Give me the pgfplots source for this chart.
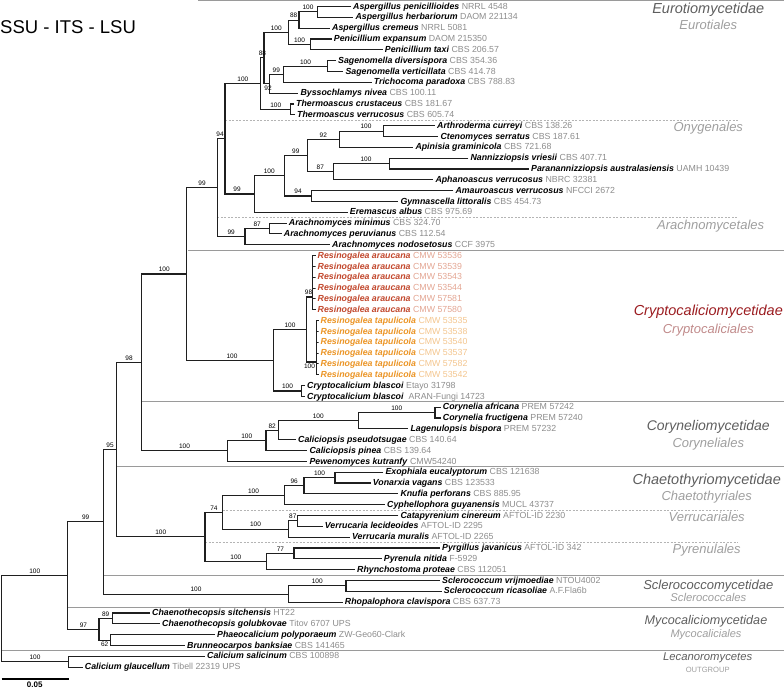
\documentclass[border=0pt]{standalone}
\usepackage{fontspec}
\setmainfont{Liberation Sans}
\usepackage{pgfplots}
\pgfplotsset{compat=1.18}
\definecolor{strain}{HTML}{8C8C8C}
\definecolor{sub}{HTML}{5E5E5E}
\definecolor{ord}{HTML}{9E9E9E}
\definecolor{crypt}{HTML}{9B1C20}
\definecolor{cryptord}{HTML}{C08A8A}
\definecolor{arau}{HTML}{C1462B}
\definecolor{araus}{HTML}{E3A592}
\definecolor{tapu}{HTML}{EB9424}
\definecolor{tapus}{HTML}{F3C58E}
\definecolor{sep}{HTML}{9A9A9A}
\definecolor{dsep}{HTML}{B4B4B4}
\newcommand{\lfont}{\fontsize{8.8}{10}\selectfont}
\newcommand{\bfont}{\fontsize{6.5}{7}\selectfont}
\newcommand{\leaf}[4]{\node[anchor=mid west,inner sep=0pt,xshift=2pt,font=\lfont] at (axis cs:#1,#2) {\textbf{\textit{#3}} \textcolor{strain}{#4}};}
\newcommand{\leafc}[6]{\node[anchor=mid west,inner sep=0pt,xshift=2pt,font=\lfont] at (axis cs:#1,#2) {\textcolor{#5}{\textbf{\textit{#3}}} \textcolor{#6}{#4}};}
\newcommand{\bs}[3]{\node[anchor=south,inner sep=0pt,yshift=1.8pt,font=\bfont] at (axis cs:#1,#2) {#3};}
\newcommand{\bsb}[3]{\node[anchor=north,inner sep=0pt,yshift=-1.8pt,font=\bfont] at (axis cs:#1,#2) {#3};}
\begin{document}
\begin{tikzpicture}
\begin{axis}[
  scale only axis, width=784pt, height=688pt,
  xmin=0, xmax=784, ymin=0, ymax=688, y dir=reverse,
  hide axis, clip=false,
  tree/.style={black!88, line width=1.1pt, no markers, line join=miter},
  solidsep/.style={sep, line width=0.9pt, no markers},
  dashsep/.style={dsep, line width=0.8pt, no markers, dash pattern=on 2pt off 1.5pt},
]
% separators
\addplot[solidsep] coordinates {(198,0.8) (784,0.8)};
\addplot[solidsep] coordinates {(188,250.2) (784,250.2)};
\addplot[solidsep] coordinates {(142,401.8) (784,401.8)};
\addplot[solidsep] coordinates {(116.3,466.8) (784,466.8)};
\addplot[solidsep] coordinates {(103.7,575.1) (784,575.1)};
\addplot[solidsep] coordinates {(68.3,607.6) (784,607.6)};
\addplot[solidsep] coordinates {(1.7,650.9) (784,650.9)};
\addplot[dashsep] coordinates {(225,120.2) (738,120.2)};
\addplot[dashsep] coordinates {(217.3,217.7) (738,217.7)};
\addplot[dashsep] coordinates {(222.7,510.1) (738,510.1)};
\addplot[dashsep] coordinates {(205,542.6) (738,542.6)};
% tree
\addplot[tree] coordinates {(351,6.5) (317.3,6.5) (317.3,17.3) (353.3,17.3)};
\addplot[tree] coordinates {(317.3,11.9) (299,11.9) (299,28.2) (330,28.2)};
\addplot[tree] coordinates {(331.7,39.0) (310.7,39.0) (310.7,49.8) (382.7,49.8)};
\addplot[tree] coordinates {(299,20.05) (288.3,20.05) (288.3,44.4) (310.7,44.4)};
\addplot[tree] coordinates {(336,60.7) (327.7,60.7) (327.7,71.5) (343.3,71.5)};
\addplot[tree] coordinates {(327.7,66.1) (283.3,66.1) (283.3,82.3) (371.7,82.3)};
\addplot[tree] coordinates {(283.3,74.2) (269.3,74.2) (269.3,93.1) (298.3,93.1)};
\addplot[tree] coordinates {(288.3,32.2) (264,32.2) (264,83.65) (269.3,83.65)};
\addplot[tree] coordinates {(294,104.0) (290.7,104.0) (290.7,114.8) (295,114.8)};
\addplot[tree] coordinates {(264,57.9) (260.7,57.9) (260.7,109.4) (290.7,109.4)};
\addplot[tree] coordinates {(435,125.6) (383.3,125.6) (383.3,136.5) (438.3,136.5)};
\addplot[tree] coordinates {(383.3,131.05) (339.3,131.05) (339.3,147.3) (413.3,147.3)};
\addplot[tree] coordinates {(468.3,158.1) (389.3,158.1) (389.3,169.0) (529,169.0)};
\addplot[tree] coordinates {(389.3,163.55) (333.3,163.55) (333.3,179.8) (433.3,179.8)};
\addplot[tree] coordinates {(339.3,139.2) (307.3,139.2) (307.3,171.7) (333.3,171.7)};
\addplot[tree] coordinates {(453.3,190.6) (311.7,190.6) (311.7,201.4) (398.3,201.4)};
\addplot[tree] coordinates {(307.3,155.4) (284.3,155.4) (284.3,196.0) (311.7,196.0)};
\addplot[tree] coordinates {(284.3,175.7) (254.3,175.7) (254.3,212.3) (347.7,212.3)};
\addplot[tree] coordinates {(260.7,83.65) (225,83.65) (225,194) (254.3,194)};
\addplot[tree] coordinates {(286.7,223.1) (269.3,223.1) (269.3,233.9) (281.7,233.9)};
\addplot[tree] coordinates {(269.3,228.5) (245,228.5) (245,244.8) (330,244.8)};
\addplot[tree] coordinates {(225,138.8) (217.3,138.8) (217.3,236.65) (245,236.65)};
\addplot[tree] coordinates {(315.5,255.6) (312.7,255.6) (312.7,266.4) (315.5,266.4) (312.7,266.4) (312.7,277.3) (315.5,277.3) (312.7,277.3) (312.7,288.1) (315.5,288.1) (312.7,288.1) (312.7,298.9) (315.5,298.9) (312.7,298.9) (312.7,309.7) (315.5,309.7)};
\addplot[tree] coordinates {(318.5,320.6) (316.7,320.6) (316.7,331.4) (318.5,331.4) (316.7,331.4) (316.7,342.2) (318.5,342.2) (316.7,342.2) (316.7,353.1) (318.5,353.1) (316.7,353.1) (316.7,363.9) (318.5,363.9) (316.7,363.9) (316.7,374.7) (318.5,374.7)};
\addplot[tree] coordinates {(312.7,297) (306.7,297) (306.7,362) (316.7,362)};
\addplot[tree] coordinates {(305,385.5) (301.7,385.5) (301.7,396.4) (305,396.4)};
\addplot[tree] coordinates {(306.7,329.5) (273.3,329.5) (273.3,390.95) (301.7,390.95)};
\addplot[tree] coordinates {(217.3,187.7) (186.7,187.7) (186.7,360.2) (273.3,360.2)};
\addplot[tree] coordinates {(440.7,407.2) (435,407.2) (435,418.0) (440.7,418.0)};
\addplot[tree] coordinates {(435,412.6) (358.3,412.6) (358.3,428.9) (408.3,428.9)};
\addplot[tree] coordinates {(358.3,420.75) (278.3,420.75) (278.3,439.7) (296,439.7)};
\addplot[tree] coordinates {(278.3,430.2) (266,430.2) (266,450.5) (307.3,450.5)};
\addplot[tree] coordinates {(266,440.35) (227.3,440.35) (227.3,461.4) (307.3,461.4)};
\addplot[tree] coordinates {(186.7,273.95) (141.7,273.95) (141.7,450.9) (227.3,450.9)};
\addplot[tree] coordinates {(383.3,472.2) (335,472.2) (335,483.0) (370.7,483.0)};
\addplot[tree] coordinates {(335,477.6) (304,477.6) (304,493.8) (398.3,493.8)};
\addplot[tree] coordinates {(304,485.7) (284.3,485.7) (284.3,504.7) (385,504.7)};
\addplot[tree] coordinates {(398.3,515.5) (297.3,515.5) (297.3,526.3) (322.7,526.3)};
\addplot[tree] coordinates {(297.3,520.9) (288.3,520.9) (288.3,537.2) (350,537.2)};
\addplot[tree] coordinates {(284.3,495.2) (222.7,495.2) (222.7,529.05) (288.3,529.05)};
\addplot[tree] coordinates {(440,548.0) (294,548.0) (294,558.8) (381.7,558.8)};
\addplot[tree] coordinates {(294,553.4) (266.7,553.4) (266.7,569.7) (355,569.7)};
\addplot[tree] coordinates {(222.7,512.1) (205,512.1) (205,561.55) (266.7,561.55)};
\addplot[tree] coordinates {(141.7,362.4) (116.3,362.4) (116.3,536.8) (205,536.8)};
\addplot[tree] coordinates {(440,580.5) (346,580.5) (346,591.3) (441.7,591.3)};
\addplot[tree] coordinates {(346,585.9) (288.3,585.9) (288.3,602.2) (342.7,602.2)};
\addplot[tree] coordinates {(116.3,449.6) (103.7,449.6) (103.7,594.05) (288.3,594.05)};
\addplot[tree] coordinates {(150,613.0) (112.3,613.0) (112.3,623.8) (160,623.8)};
\addplot[tree] coordinates {(215,634.6) (110.3,634.6) (110.3,645.5) (185,645.5)};
\addplot[tree] coordinates {(112.3,618.4) (99,618.4) (99,640.05) (110.3,640.05)};
\addplot[tree] coordinates {(103.7,521.8) (67.7,521.8) (67.7,629.2) (99,629.2)};
\addplot[tree] coordinates {(205,656.3) (68.3,656.3) (68.3,667.1) (82.7,667.1)};
\addplot[tree] coordinates {(67.7,575.5) (1.7,575.5) (1.7,661.7) (68.3,661.7)};
% scale bar
\addplot[black, line width=1.6pt, no markers] coordinates {(1.7,679) (69,679)};
\node[font=\fontsize{8}{9}\selectfont\bfseries, inner sep=0pt, anchor=south, yshift=0.6pt] at (axis cs:34.7,688) {0.05};
% bootstrap values
\bs{308}{11.9}{100}
\bs{293.7}{20.05}{88}
\bs{299.5}{44.4}{100}
\bs{276.2}{32.2}{100}
\bs{305.5}{66.1}{100}
\bs{276.3}{74.2}{99}
\bsb{268}{83.65}{92}
\bs{262.4}{57.9}{88}
\bs{275.7}{109.4}{100}
\bs{242.9}{83.65}{100}
\bs{366}{131.05}{100}
\bs{323.3}{139.2}{92}
\bs{366}{163.55}{100}
\bs{320.3}{171.7}{87}
\bs{295.8}{155.4}{99}
\bs{298}{196}{94}
\bs{269.3}{175.7}{100}
\bs{237}{194}{99}
\bs{220}{138.8}{94}
\bs{257.2}{228.5}{87}
\bs{231.2}{236.65}{99}
\bs{202}{187.7}{99}
\bs{308.5}{297}{98}
\bsb{309.5}{362}{100}
\bs{290}{329.5}{100}
\bs{287.5}{390.95}{100}
\bs{232}{360.2}{100}
\bs{164.2}{273.95}{100}
\bs{396.7}{412.6}{100}
\bs{318.3}{420.75}{100}
\bs{272.2}{430.2}{82}
\bs{246.7}{440.35}{100}
\bs{184.5}{450.9}{100}
\bs{129}{362.4}{98}
\bs{319.5}{477.6}{100}
\bs{294.2}{485.7}{96}
\bs{253.5}{495.2}{100}
\bs{292.8}{520.9}{87}
\bs{255.5}{529.05}{100}
\bs{213.9}{512.1}{74}
\bs{280.4}{553.4}{77}
\bs{235.9}{561.55}{100}
\bs{160.7}{536.8}{100}
\bs{110}{449.6}{95}
\bs{317.2}{585.9}{100}
\bs{196}{594.05}{100}
\bs{85.7}{521.8}{99}
\bs{105.7}{618.4}{89}
\bsb{104.7}{640.05}{62}
\bs{83.4}{629.2}{97}
\bs{34.7}{575.5}{100}
\bs{35}{661.7}{100}
% leaves
\leaf{351}{6.5}{Aspergillus penicillioides}{NRRL 4548}
\leaf{353.3}{17.3}{Aspergillus herbariorum}{DAOM 221134}
\leaf{330}{28.2}{Aspergillus cremeus}{NRRL 5081}
\leaf{331.7}{39.0}{Penicillium expansum}{DAOM 215350}
\leaf{382.7}{49.8}{Penicillium taxi}{CBS 206.57}
\leaf{336}{60.7}{Sagenomella diversispora}{CBS 354.36}
\leaf{343.3}{71.5}{Sagenomella verticillata}{CBS 414.78}
\leaf{371.7}{82.3}{Trichocoma paradoxa}{CBS 788.83}
\leaf{298.3}{93.1}{Byssochlamys nivea}{CBS 100.11}
\leaf{294}{104.0}{Thermoascus crustaceus}{CBS 181.67}
\leaf{295}{114.8}{Thermoascus verrucosus}{CBS 605.74}
\leaf{435}{125.6}{Arthroderma curreyi}{CBS 138.26}
\leaf{438.3}{136.5}{Ctenomyces serratus}{CBS 187.61}
\leaf{413.3}{147.3}{Apinisia graminicola}{CBS 721.68}
\leaf{468.3}{158.1}{Nannizziopsis vriesii}{CBS 407.71}
\leaf{529}{169.0}{Paranannizziopsis australasiensis}{UAMH 10439}
\leaf{433.3}{179.8}{Aphanoascus verrucosus}{NBRC 32381}
\leaf{453.3}{190.6}{Amauroascus verrucosus}{NFCCI 2672}
\leaf{398.3}{201.4}{Gymnascella littoralis}{CBS 454.73}
\leaf{347.7}{212.3}{Eremascus albus}{CBS 975.69}
\leaf{286.7}{223.1}{Arachnomyces minimus}{CBS 324.70}
\leaf{281.7}{233.9}{Arachnomyces peruvianus}{CBS 112.54}
\leaf{330}{244.8}{Arachnomyces nodosetosus}{CCF 3975}
\leafc{315.5}{255.6}{Resinogalea araucana}{CMW 53536}{arau}{araus}
\leafc{315.5}{266.4}{Resinogalea araucana}{CMW 53539}{arau}{araus}
\leafc{315.5}{277.3}{Resinogalea araucana}{CMW 53543}{arau}{araus}
\leafc{315.5}{288.1}{Resinogalea araucana}{CMW 53544}{arau}{araus}
\leafc{315.5}{298.9}{Resinogalea araucana}{CMW 57581}{arau}{araus}
\leafc{315.5}{309.7}{Resinogalea araucana}{CMW 57580}{arau}{araus}
\leafc{318.5}{320.6}{Resinogalea tapulicola}{CMW 53535}{tapu}{tapus}
\leafc{318.5}{331.4}{Resinogalea tapulicola}{CMW 53538}{tapu}{tapus}
\leafc{318.5}{342.2}{Resinogalea tapulicola}{CMW 53540}{tapu}{tapus}
\leafc{318.5}{353.1}{Resinogalea tapulicola}{CMW 53537}{tapu}{tapus}
\leafc{318.5}{363.9}{Resinogalea tapulicola}{CMW 57582}{tapu}{tapus}
\leafc{318.5}{374.7}{Resinogalea tapulicola}{CMW 53542}{tapu}{tapus}
\leaf{305}{385.5}{Cryptocalicium blascoi}{Etayo 31798}
\leaf{305}{396.4}{Cryptocalicium blascoi}{\ ARAN-Fungi 14723}
\leaf{440.7}{407.2}{Corynelia africana}{PREM 57242}
\leaf{440.7}{418.0}{Corynelia fructigena}{PREM 57240}
\leaf{408.3}{428.9}{Lagenulopsis bispora}{PREM 57232}
\leaf{296}{439.7}{Caliciopsis pseudotsugae}{CBS 140.64}
\leaf{307.3}{450.5}{Caliciopsis pinea}{CBS 139.64}
\leaf{307.3}{461.4}{Pewenomyces kutranfy}{CMW54240}
\leaf{383.3}{472.2}{Exophiala eucalyptorum}{CBS 121638}
\leaf{370.7}{483.0}{Vonarxia vagans}{CBS 123533}
\leaf{398.3}{493.8}{Knufia perforans}{CBS 885.95}
\leaf{385}{504.7}{Cyphellophora guyanensis}{MUCL 43737}
\leaf{398.3}{515.5}{Catapyrenium cinereum}{AFTOL-ID 2230}
\leaf{322.7}{526.3}{Verrucaria lecideoides}{AFTOL-ID 2295}
\leaf{350}{537.2}{Verrucaria muralis}{AFTOL-ID 2265}
\leaf{440}{548.0}{Pyrgillus javanicus}{AFTOL-ID 342}
\leaf{381.7}{558.8}{Pyrenula nitida}{F-5929}
\leaf{355}{569.7}{Rhynchostoma proteae}{CBS 112051}
\leaf{440}{580.5}{Sclerococcum vrijmoediae}{NTOU4002}
\leaf{441.7}{591.3}{Sclerococcum ricasoliae}{A.F.Fla6b}
\leaf{342.7}{602.2}{Rhopalophora clavispora}{CBS 637.73}
\leaf{150}{613.0}{Chaenothecopsis sitchensis}{HT22}
\leaf{160}{623.8}{Chaenothecopsis golubkovae}{Titov 6707 UPS}
\leaf{215}{634.6}{Phaeocalicium polyporaeum}{ZW-Geo60-Clark}
\leaf{185}{645.5}{Brunneocarpos banksiae}{CBS 141465}
\leaf{205}{656.3}{Calicium salicinum}{CBS 100898}
\leaf{82.7}{667.1}{Calicium glaucellum}{Tibell 22319 UPS}
% title
\node[anchor=west, inner sep=0pt, font=\fontsize{18.5}{20}\selectfont] at (axis cs:0,26.7) {SSU - ITS - LSU};
% group labels
\node[font=\fontsize{14.5}{16}\selectfont\itshape, text=sub] at (axis cs:708.3,10) {Eurotiomycetidae};
\node[font=\fontsize{13}{14}\selectfont\itshape, text=ord] at (axis cs:708.3,24.5) {Eurotiales};
\node[font=\fontsize{13}{14}\selectfont\itshape, text=ord] at (axis cs:708.3,128.3) {Onygenales};
\node[font=\fontsize{13}{14}\selectfont\itshape, text=ord] at (axis cs:710.7,225.7) {Arachnomycetales};
\node[font=\fontsize{14.5}{16}\selectfont\itshape, text=crypt] at (axis cs:708.3,311.7) {Cryptocaliciomycetidae};
\node[font=\fontsize{13}{14}\selectfont\itshape, text=cryptord] at (axis cs:708.3,330) {Cryptocaliciales};
\node[font=\fontsize{14}{16}\selectfont\itshape, text=sub] at (axis cs:708.3,427.3) {Coryneliomycetidae};
\node[font=\fontsize{13}{14}\selectfont\itshape, text=ord] at (axis cs:708.3,444) {Coryneliales};
\node[font=\fontsize{14.5}{16}\selectfont\itshape, text=sub] at (axis cs:706.7,480.7) {Chaetothyriomycetidae};
\node[font=\fontsize{13}{14}\selectfont\itshape, text=ord] at (axis cs:706.7,496.7) {Chaetothyriales};
\node[font=\fontsize{13}{14}\selectfont\itshape, text=ord] at (axis cs:706.7,517.3) {Verrucariales};
\node[font=\fontsize{13}{14}\selectfont\itshape, text=ord] at (axis cs:706.7,550) {Pyrenulales};
\node[font=\fontsize{13}{14}\selectfont\itshape, text=sub] at (axis cs:708.3,586) {Sclerococcomycetidae};
\node[font=\fontsize{11.3}{12}\selectfont\itshape, text=ord] at (axis cs:708.3,597.7) {Sclerococcales};
\node[font=\fontsize{12.6}{14}\selectfont\itshape, text=sub] at (axis cs:706,621.7) {Mycocaliciomycetidae};
\node[font=\fontsize{11}{12}\selectfont\itshape, text=ord] at (axis cs:706,635) {Mycocaliciales};
\node[font=\fontsize{11.3}{12}\selectfont\itshape, text=sub] at (axis cs:707.7,657.3) {Lecanoromycetes};
\node[font=\fontsize{7.6}{8}\selectfont, text=ord] at (axis cs:707.7,670) {OUTGROUP};
\end{axis}
\pgfresetboundingbox
\path[use as bounding box] (0,0) rectangle (784pt,688pt);
\end{tikzpicture}
\end{document}
